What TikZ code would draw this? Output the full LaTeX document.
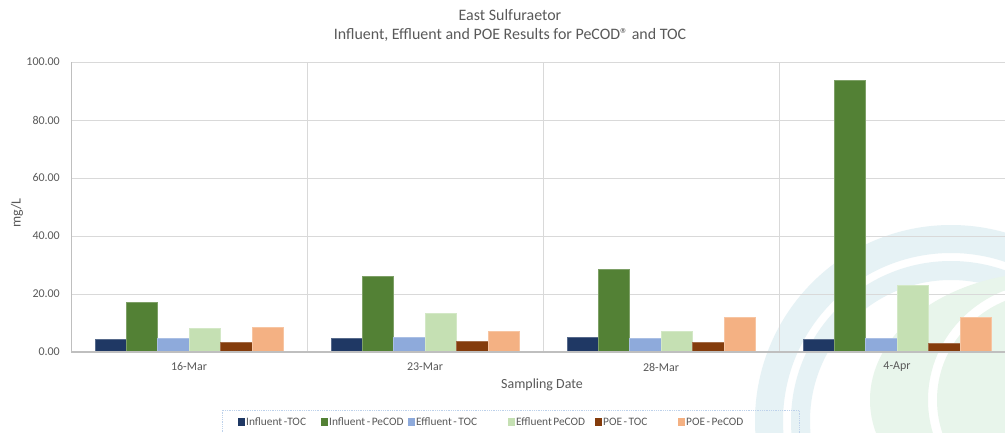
\documentclass[tikz,border=0pt]{standalone}
\usepackage{fontspec}
\setmainfont{Carlito}
\newfontfamily\legfont{Carlito}[WordSpace=0.6]
\definecolor{txtgray}{HTML}{595959}
\definecolor{gridgray}{HTML}{D9D9D9}
\definecolor{axisgray}{HTML}{BFBFBF}
\definecolor{inftoc}{HTML}{1F3864}
\definecolor{infcod}{HTML}{538135}
\definecolor{efftoc}{HTML}{8EAADB}
\definecolor{effcod}{HTML}{C5E0B3}
\definecolor{poetoc}{HTML}{843C0C}
\definecolor{poecod}{HTML}{F4B183}
\definecolor{wmblue}{RGB}{230,242,245}
\definecolor{wmgreen}{RGB}{232,245,235}
\definecolor{legborder}{RGB}{190,210,235}
\tikzset{
  ticklab/.style={text=txtgray, font=\fontsize{12}{14}\selectfont, inner sep=0pt},
  axlab/.style={text=txtgray, font=\fontsize{14}{16}\selectfont, inner sep=0pt},
  titlelab/.style={text=txtgray, font=\fontsize{16}{19}\selectfont, inner sep=0pt},
  legtext/.style={text=txtgray, font=\legfont\fontsize{11.4}{14}\selectfont, inner sep=0pt, anchor=west},
  legkey/.style={minimum width=7bp, minimum height=8bp, inner sep=0pt, anchor=west},
  bar/.style={draw=#1!75!white, line width=0.6bp, fill=#1}
}
\begin{document}
\begin{tikzpicture}[x=1bp,y=1bp]
\useasboundingbox (0,0) rectangle (1005,432);
\fill[white] (0,0) rectangle (1005,432);

% watermark
\begin{scope}
\clip (0,0) rectangle (1005,432);
\fill[wmblue, even odd rule] (951,11) circle (196) (951,11) circle (168);
\fill[wmblue, even odd rule] (951,11) circle (160) (951,11) circle (141);
\fill[wmgreen, even odd rule] (1050,32) ellipse (180 and 128) (1050,32) ellipse (122 and 118);
\fill[wmgreen] (1050,32) ellipse (113 and 108);
\end{scope}

% grid
\foreach \k in {1,...,5}
  \draw[gridgray, line width=0.8bp] (71,{80+58*\k}) -- (1005,{80+58*\k});
\foreach \k in {1,2,3}
  \draw[gridgray, line width=0.8bp] ({71+236*\k},80) -- ({71+236*\k},370);

% bars
\foreach \s/\col/\vals in {0/inftoc/{4.5,4.8,5.2,4.4},
                           1/infcod/{17.0,26.2,28.6,93.8},
                           2/efftoc/{4.8,5.1,4.8,4.6},
                           3/effcod/{8.3,13.4,7.2,23.0},
                           4/poetoc/{3.4,3.7,3.3,3.1},
                           5/poecod/{8.6,7.1,12.0,12.0}}
  \foreach \v [count=\k from 0] in \vals
    \draw[bar=\col] ({94.8+236*\k+31.4*\s},80) rectangle ++(31.4,{2.9*\v});

% axes
\draw[axisgray, line width=0.8bp] (71,80) -- (71,370);
\draw[axisgray, line width=2bp] (71,80) -- (1005,80);

% y ticks
\node[ticklab, anchor=east] (y0) at (60,80) {0.00};
\node[ticklab, anchor=east] (y20) at (60,138) {20.00};
\node[ticklab, anchor=east] (y40) at (60,196) {40.00};
\node[ticklab, anchor=east] (y60) at (60,254) {60.00};
\node[ticklab, anchor=east] (y80) at (60,312) {80.00};
\node[ticklab, anchor=east] (y100) at (60,370) {100.00};

% x ticks
\node[ticklab] (mar16) at (189,65) {16-Mar};
\node[ticklab] (mar23) at (425,65) {23-Mar};
\node[ticklab] (mar28) at (661,65) {28-Mar};
\node[ticklab] (apr4) at (897,65) {4-Apr};

% titles
\node[titlelab] (title1) at (510,417) {East Sulfuraetor};
\node[titlelab] (title2) at (510,397) {Influent, Effluent and POE Results for PeCOD® and TOC};
\node[axlab, rotate=90] (ylab) at (17,219) {mg/L};
\node[axlab] (xlab) at (542,47) {Sampling Date};

% legend
\draw[legborder, densely dotted, line width=0.8bp] (222,-2) rectangle (799,22);
\node[legkey, fill=inftoc] (k1) at (238,10) {};
\node[legtext] (l1) at (246,10) {Influent -TOC};
\node[legkey, fill=infcod] (k2) at (321,10) {};
\node[legtext] (l2) at (329,10) {Influent - PeCOD};
\node[legkey, fill=efftoc] (k3) at (408,10) {};
\node[legtext] (l3) at (416,10) {Effluent - TOC};
\node[legkey, fill=effcod] (k4) at (508,10) {};
\node[legtext] (l4) at (516,10) {Effluent PeCOD};
\node[legkey, fill=poetoc] (k5) at (595,10) {};
\node[legtext] (l5) at (603,10) {POE - TOC};
\node[legkey, fill=poecod] (k6) at (678,10) {};
\node[legtext] (l6) at (686,10) {POE - PeCOD};
\end{tikzpicture}
\end{document}
